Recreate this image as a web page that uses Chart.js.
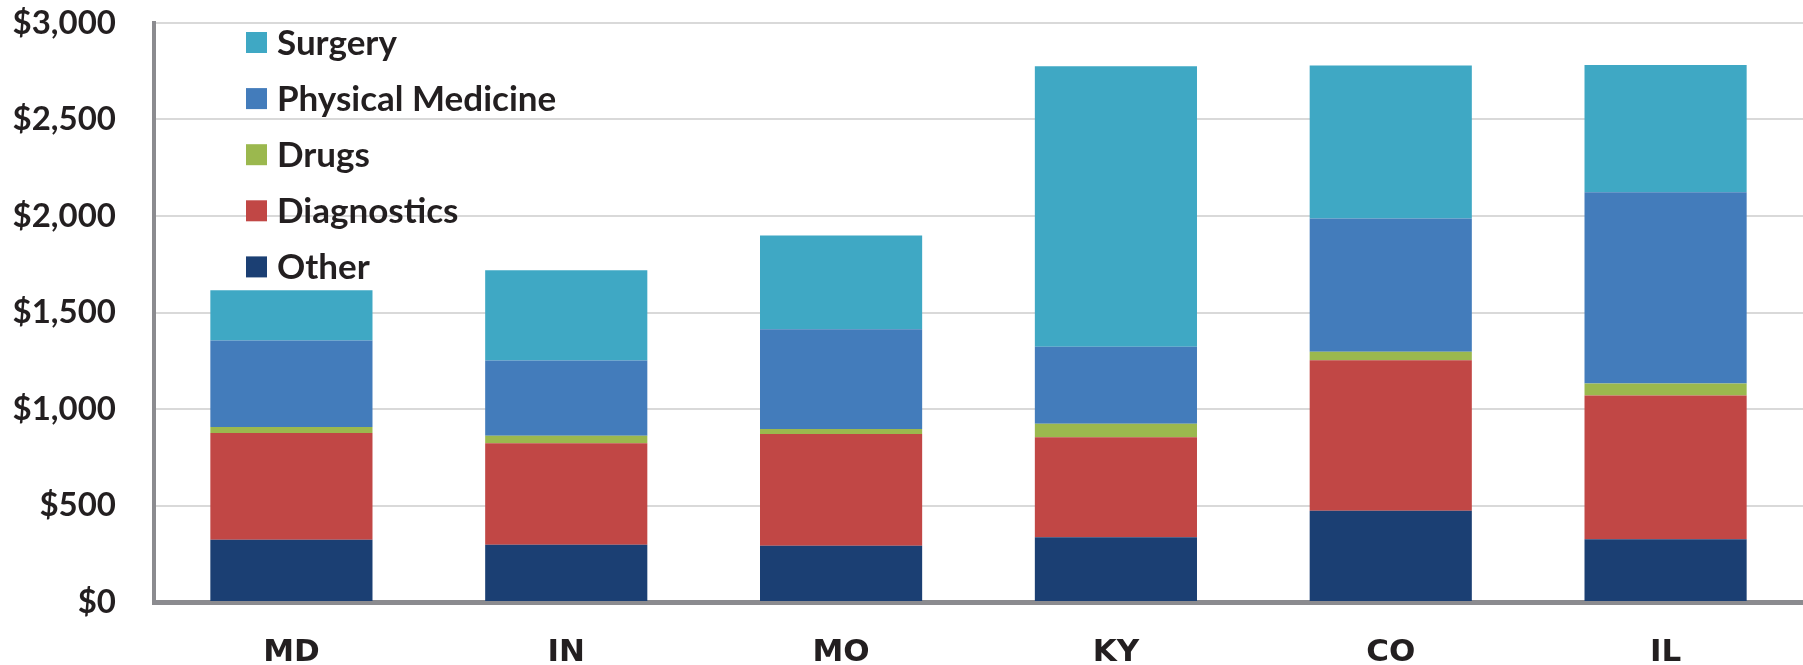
<!DOCTYPE html>
<html>
<head>
<meta charset="utf-8">
<script src="https://cdn.jsdelivr.net/npm/chart.js@4/dist/chart.umd.min.js"></script>
<style>
  html, body { margin: 0; padding: 0; background: #ffffff; }
  #wrap { width: 1803px; height: 665px; position: relative; }
</style>
</head>
<body>
<div id="wrap"><canvas id="chart" width="1803" height="665"></canvas></div>
<script>
// States compared
const states = ['MD', 'IN', 'MO', 'KY', 'CO', 'IL'];

// Average cost per category (USD), stacked bottom to top
const other            = [323, 297, 292, 336, 473, 325];
const diagnostics      = [553, 525, 578, 517, 780, 745];
const drugs            = [31, 40, 27, 70, 44, 62];
const physicalMedicine = [448, 389, 516, 400, 690, 991];
const surgery          = [260, 468, 486, 1453, 793, 660];

// Value axis ticks
const yTicks = [0, 500, 1000, 1500, 2000, 2500, 3000];

const seriesNames  = ['Other', 'Diagnostics', 'Drugs', 'Physical Medicine', 'Surgery'];
const seriesValues = [other, diagnostics, drugs, physicalMedicine, surgery];
const seriesColors = ['#1b3f73', '#c14745', '#9bb84e', '#437cbb', '#3fa8c4'];

const axisGray = '#8b8b8f';
const textDark = '#231f20';

// Legend drawn inside the plot area, top item = top of stack
const insideLegend = {
  id: 'insideLegend',
  afterDraw(chart, args, opts) {
    const ctx = chart.ctx;
    const area = chart.chartArea;
    const items = chart.data.datasets.slice().reverse();
    ctx.save();
    ctx.font = opts.font;
    ctx.textBaseline = 'middle';
    ctx.textAlign = 'left';
    items.forEach((d, i) => {
      const x = area.left + opts.offsetX;
      const cy = area.top + opts.offsetY + i * opts.rowGap;
      ctx.fillStyle = d.backgroundColor;
      ctx.fillRect(x, cy - opts.box / 2, opts.box, opts.box);
      ctx.fillStyle = opts.color;
      ctx.fillText(d.label, x + opts.box + opts.gap, cy + opts.textShift);
    });
    ctx.restore();
  }
};

const money = v => '$' + v.toLocaleString('en-US');

new Chart(document.getElementById('chart'), {
  type: 'bar',
  data: {
    labels: states,
    datasets: seriesNames.map((name, i) => ({
      label: name,
      data: seriesValues[i],
      backgroundColor: seriesColors[i],
      borderWidth: 0,
      categoryPercentage: 1.0,
      barPercentage: 0.59
    }))
  },
  plugins: [insideLegend],
  options: {
    responsive: false,
    animation: false,
    layout: { padding: { top: 23, right: 0, left: 0, bottom: 0 } },
    plugins: {
      legend: { display: false },
      tooltip: { enabled: false },
      insideLegend: {
        font: 'bold 35px Lato',
        color: textDark,
        box: 21,
        gap: 10,
        offsetX: 92,
        offsetY: 19.5,
        rowGap: 56.1,
        textShift: 1
      }
    },
    scales: {
      x: {
        stacked: true,
        grid: { display: false, drawTicks: false },
        border: { display: true, color: axisGray, width: 5 },
        ticks: {
          color: textDark,
          font: { family: 'DejaVu Sans', weight: 'bold', size: 31 },
          padding: 32,
          maxRotation: 0
        },
        afterFit(scale) {
          scale.height = 63;
          scale.paddingLeft = 0;
          scale.paddingRight = 0;
        }
      },
      y: {
        stacked: true,
        min: 0,
        max: 3000,
        afterBuildTicks(scale) { scale.ticks = yTicks.map(v => ({ value: v })); },
        grid: { color: '#d9d9d9', lineWidth: 2, drawTicks: false },
        border: { display: true, color: axisGray, width: 4 },
        ticks: {
          color: textDark,
          font: { family: 'Lato', weight: 'bold', size: 33 },
          padding: 38,
          callback: v => money(v)
        },
        afterFit(scale) {
          scale.width = 154;
          scale.paddingTop = 0;
          scale.paddingBottom = 0;
        }
      }
    }
  }
});
</script>
</body>
</html>
